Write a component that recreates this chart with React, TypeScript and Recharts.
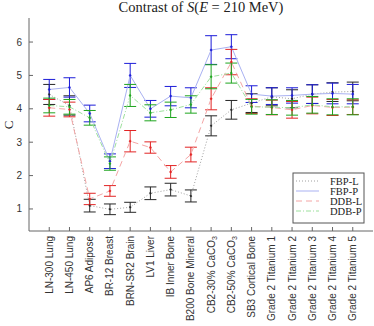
import React from 'react';
import { ComposedChart, Line, ErrorBar, XAxis, YAxis } from 'recharts';

const categories = [
  'LN-300 Lung',
  'LN-450 Lung',
  'AP6 Adipose',
  'BR-12 Breast',
  'BRN-SR2 Brain',
  'LV1 Liver',
  'IB Inner Bone',
  'B200 Bone Mineral',
  'CB2-30% CaCO3',
  'CB2-50% CaCO3',
  'SB3 Cortical Bone',
  'Grade 2 Titanium 1',
  'Grade 2 Titanium 2',
  'Grade 2 Titanium 3',
  'Grade 2 Titanium 4',
  'Grade 2 Titanium 5',
];

const fbpL = [4.43, 4.1, 1.1, 0.99, 1.05, 1.47, 1.58, 1.39, 3.49, 3.97, 4.17, 4.36, 4.3, 4.44, 4.5, 4.52];
const fbpLErr = [0.3, 0.29, 0.19, 0.16, 0.15, 0.19, 0.19, 0.18, 0.3, 0.28, 0.28, 0.27, 0.27, 0.28, 0.28, 0.28];
const fbpP = [4.58, 4.64, 3.86, 2.43, 5.0, 4.0, 4.38, 4.33, 5.76, 5.86, 4.44, 4.38, 4.4, 4.44, 4.46, 4.44];
const fbpPErr = [0.3, 0.29, 0.25, 0.22, 0.36, 0.25, 0.29, 0.3, 0.43, 0.36, 0.25, 0.25, 0.23, 0.28, 0.31, 0.29];
const ddbL = [4.03, 3.98, 1.3, 1.54, 3.03, 2.84, 2.11, 2.63, 4.3, 5.4, 4.08, 4.04, 3.97, 4.1, 4.04, 4.05];
const ddbLErr = [0.25, 0.22, 0.17, 0.16, 0.32, 0.17, 0.19, 0.22, 0.33, 0.38, 0.22, 0.22, 0.25, 0.25, 0.24, 0.22];
const ddbP = [4.1, 4.06, 3.73, 2.36, 4.4, 3.88, 3.97, 4.13, 4.96, 5.07, 4.06, 4.05, 4.03, 4.12, 4.06, 4.06];
const ddbPErr = [0.22, 0.22, 0.22, 0.2, 0.33, 0.24, 0.23, 0.26, 0.36, 0.3, 0.22, 0.22, 0.22, 0.25, 0.24, 0.24];

const yTicks = [1, 2, 3, 4, 5, 6];
const xTicks = categories.map((_, i) => i + 1);

const data = categories.map((name, i) => ({
  x: i + 1,
  name,
  fbpL: fbpL[i],
  fbpLErr: fbpLErr[i],
  fbpP: fbpP[i],
  fbpPErr: fbpPErr[i],
  ddbL: ddbL[i],
  ddbLErr: ddbLErr[i],
  ddbP: ddbP[i],
  ddbPErr: ddbPErr[i],
}));

const series = [
  { key: 'fbpL', name: 'FBP-L', line: '#a0a0a0', bar: '#262626', dash: '1 2' },
  { key: 'fbpP', name: 'FBP-P', line: '#a9b1f2', bar: '#1c1cd8', dash: undefined },
  { key: 'ddbL', name: 'DDB-L', line: '#f4a5a5', bar: '#e22424', dash: '6 4' },
  { key: 'ddbP', name: 'DDB-P', line: '#9de09d', bar: '#1fa51f', dash: '5 2 1 2' },
];

const sans = '"Liberation Sans", Arial, sans-serif';
const serif = '"Liberation Serif", "Times New Roman", serif';
const axisColor = '#666';

const XTick = (props: any) => {
  const { x, y, payload } = props;
  const label = categories[payload.value - 1];
  if (!label) return null;
  const sub = label.endsWith('CaCO3');
  const ty = y + 5;
  return (
    <g>
      <line x1={x} y1={y} x2={x} y2={y - 4} stroke={axisColor} />
      <text
        x={x}
        y={ty}
        transform={`rotate(-90, ${x}, ${ty})`}
        textAnchor="end"
        dominantBaseline="central"
        fontSize={10}
        fontFamily={sans}
        fill="#333"
      >
        {sub ? (
          <>
            {label.slice(0, -1)}
            <tspan dy={3} fontSize={7}>3</tspan>
          </>
        ) : (
          label
        )}
      </text>
    </g>
  );
};

const YTick = (props: any) => {
  const { x, y, payload } = props;
  return (
    <g>
      <line x1={x} y1={y} x2={x + 4} y2={y} stroke={axisColor} />
      <text x={x - 7} y={y} textAnchor="end" dominantBaseline="central" fontSize={10} fontFamily={sans} fill="#333">
        {payload.value}
      </text>
    </g>
  );
};

const App = () => (
  <div style={{ position: 'absolute', left: 0, top: 0, width: 374, height: 326, background: '#fff' }}>
    <ComposedChart width={374} height={326} data={data} margin={{ top: 18, right: 1, bottom: 0, left: 0 }}>
      <XAxis
        dataKey="x"
        type="number"
        domain={[0, 17]}
        ticks={xTicks}
        interval={0}
        height={95}
        tickSize={0}
        tickMargin={0}
        tickLine={false}
        stroke={axisColor}
        tick={<XTick />}
      />
      <YAxis
        type="number"
        domain={[0.34, 6.72]}
        ticks={yTicks}
        allowDataOverflow
        width={29}
        tickSize={0}
        tickMargin={0}
        tickLine={false}
        stroke={axisColor}
        tick={<YTick />}
      />
      {series.map((s) => (
        <Line
          key={s.key}
          dataKey={s.key}
          name={s.name}
          stroke={s.line}
          strokeWidth={1}
          strokeDasharray={s.dash}
          dot={{ r: 1, fill: s.bar, stroke: s.bar, strokeWidth: 0.5 }}
          isAnimationActive={false}
        >
          <ErrorBar dataKey={`${s.key}Err`} direction="y" width={6} stroke={s.bar} strokeWidth={1} />
        </Line>
      ))}
    </ComposedChart>
    <svg width={374} height={326} style={{ position: 'absolute', left: 0, top: 0, pointerEvents: 'none' }}>
      <text x={201} y={12} textAnchor="middle" fontFamily={serif} fontSize={14.5} fill="#222">
        Contrast of <tspan fontStyle="italic">S</tspan>(<tspan fontStyle="italic">E</tspan> = 210 MeV)
      </text>
      <text
        x={8}
        y={125}
        transform="rotate(-90, 8, 125)"
        textAnchor="middle"
        dominantBaseline="central"
        fontFamily={serif}
        fontSize={13}
        fill="#222"
      >
        C
      </text>
      <g transform="translate(293, 173)">
        <rect x={0} y={0} width={71} height={50} fill="#fff" stroke="#555" />
        {series.map((s, i) => (
          <g key={s.key}>
            <line x1={3} y1={8 + i * 10} x2={26} y2={8 + i * 10} stroke={s.line} strokeDasharray={s.dash} />
            <text x={37} y={8 + i * 10} dominantBaseline="central" fontFamily={serif} fontSize={10.5} fill="#222">
              {s.name}
            </text>
          </g>
        ))}
      </g>
    </svg>
  </div>
);

export default App;
